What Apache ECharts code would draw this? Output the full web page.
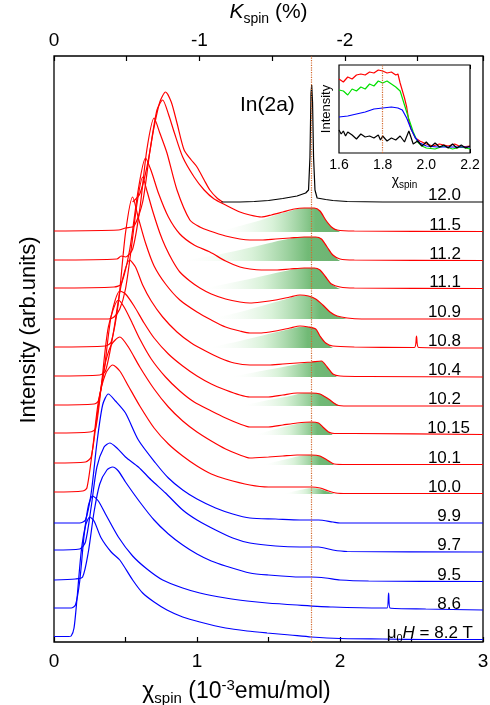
<!DOCTYPE html>
<html>
<head>
<meta charset="utf-8">
<script src="https://cdn.jsdelivr.net/npm/echarts@6/dist/echarts.min.js"></script>
<style>
  html, body { margin: 0; padding: 0; background: #fff; }
  #chart { width: 490px; height: 705px; }
</style>
</head>
<body>
<div id="chart"></div>
<script>
// field of each spectrum, bottom to top (T)
const fields = ['8.2', '8.6', '9.5', '9.7', '9.9', '10.0', '10.1', '10.15', '10.2', '10.4', '10.8', '10.9', '11.1', '11.2', '11.5', '12.0'];
// vertical offset of every spectrum (arb. units)
const offsets = [2, 31, 60, 90, 119, 148, 177, 207, 236, 265, 294, 323, 353, 381, 410, 440];

// spectra, [chi_spin, intensity above own baseline]
const s82 = [[0,3.5],[0.1,3.5],[0.12,4],[0.14,12],[0.16,40],[0.19,88],[0.22,114],[0.25,123],[0.28,119],[0.33,102],[0.4,88],[0.46,80],[0.55,60],[0.62,47],[0.7,38],[0.79,30],[0.9,23],[1.02,18],[1.2,12],[1.35,9],[1.49,7],[1.65,5],[1.8,3],[2.0,1.5],[2.3,1],[2.6,0.5],[3,0.5]];
const s86 = [[0,3],[0.12,3],[0.15,6],[0.18,30],[0.21,75],[0.24,105],[0.27,115],[0.31,110],[0.36,97],[0.45,74],[0.55,55],[0.65,42],[0.76,31],[0.9,23],[1.02,18],[1.2,13],[1.35,10],[1.49,8],[1.7,6],[1.95,4],[2.3,3],[2.33,3],[2.34,18],[2.35,3],[2.6,2],[3,1]];
const s95 = [[0,2],[0.15,3],[0.2,5],[0.24,30],[0.28,70],[0.32,98],[0.37,112],[0.41,115],[0.45,111],[0.5,100],[0.6,80],[0.7,62],[0.8,48],[0.9,37],[1.0,28],[1.1,21],[1.2,16],[1.37,9],[1.5,7],[1.72,5],[1.8,5],[1.9,4],[2.0,2],[2.2,1],[3,0.5]];
const s97 = [[0,2],[0.18,3],[0.22,10],[0.26,45],[0.3,85],[0.35,105],[0.39,109],[0.44,104],[0.5,95],[0.59,85],[0.68,72],[0.78,59],[0.9,42],[1.0,32],[1.13,22],[1.25,14],[1.37,9],[1.55,6],[1.72,5],[1.85,5],[1.95,2],[2.05,0.5],[3,0]];
const s99 = [[0,0],[0.18,0],[0.22,3],[0.26,30],[0.3,80],[0.34,118],[0.38,129],[0.43,122],[0.5,110],[0.59,83],[0.71,60],[0.8,45],[0.9,33],[1.0,24],[1.13,15],[1.25,9],[1.37,5],[1.55,4],[1.72,3],[1.85,3],[1.95,1],[2.0,0],[3,0]];
const s100 = [[0,2],[0.2,3],[0.23,6],[0.27,45],[0.31,92],[0.36,120],[0.41,129],[0.46,123],[0.52,108],[0.6,88],[0.7,66],[0.8,50],[0.9,38],[1.0,28],[1.1,20],[1.2,15],[1.37,9],[1.5,7],[1.62,7],[1.72,7],[1.8,7],[1.86,6],[1.92,3],[1.97,1],[2.05,0.5],[3,0.5]];
const s101 = [[0,2],[0.22,3],[0.26,8],[0.3,48],[0.35,96],[0.4,120],[0.46,128],[0.52,118],[0.6,98],[0.7,76],[0.8,58],[0.9,44],[1.0,33],[1.1,24],[1.2,16],[1.3,10],[1.37,7],[1.5,8],[1.6,9],[1.7,10],[1.8,10],[1.86,9],[1.91,5],[1.96,1],[2.05,0.5],[3,0.5]];
const s1015 = [[0,2],[0.25,3],[0.29,6],[0.33,48],[0.38,108],[0.45,135],[0.49,128],[0.54,114],[0.6,96],[0.68,76],[0.78,58],[0.88,44],[0.98,33],[1.1,24],[1.2,17],[1.3,11],[1.37,8],[1.5,8],[1.6,10],[1.7,12],[1.8,13],[1.85,12],[1.88,8],[1.92,3],[1.96,1.5],[2.1,1.5],[3,0.5]];
const s102 = [[0,1],[0.28,2],[0.31,5],[0.35,35],[0.4,90],[0.46,115],[0.5,112],[0.56,100],[0.63,83],[0.7,68],[0.8,52],[0.9,40],[1.0,30],[1.1,22],[1.2,16],[1.3,11],[1.37,9],[1.5,9],[1.6,11],[1.7,13],[1.8,13],[1.86,12],[1.92,7],[1.98,1],[2.05,0],[3,0]];
const s104 = [[0,1],[0.32,2],[0.36,6],[0.41,40],[0.47,92],[0.53,117],[0.57,110],[0.62,92],[0.68,76],[0.76,60],[0.86,45],[0.96,34],[1.06,26],[1.16,19],[1.26,14],[1.37,12],[1.5,12],[1.6,13],[1.7,14],[1.8,15],[1.87,16],[1.91,10],[1.95,3],[2.0,1],[2.2,0.5],[3,0]];
const s108 = [[0,1],[0.36,2],[0.4,6],[0.45,45],[0.5,115],[0.55,151],[0.59,130],[0.64,105],[0.7,82],[0.78,64],[0.88,48],[1.0,36],[1.1,28],[1.2,21],[1.3,17],[1.37,15],[1.45,15],[1.55,17],[1.65,20],[1.72,22],[1.78,21],[1.83,19],[1.86,12],[1.9,5],[1.95,2],[2.1,1],[2.52,0.5],[2.535,12],[2.55,0.5],[3,0]];
const s109 = [[0,0],[0.38,0],[0.42,2],[0.46,10],[0.5,30],[0.54,70],[0.58,115],[0.62,142],[0.65,128],[0.69,108],[0.74,86],[0.78,72],[0.83,58],[0.88,47],[0.95,38],[1.02,31],[1.1,25],[1.2,20],[1.3,17],[1.37,16],[1.45,17],[1.55,19],[1.65,22],[1.72,24],[1.78,23],[1.83,20],[1.88,14],[1.93,7],[1.98,3],[2.05,1],[2.15,0],[3,0]];
const s111 = [[0,1],[0.42,2],[0.47,5],[0.53,40],[0.59,100],[0.64,131],[0.68,118],[0.73,96],[0.8,72],[0.88,55],[0.98,44],[1.09,37],[1.2,28],[1.3,22],[1.37,20],[1.45,19],[1.55,19],[1.65,20],[1.75,21],[1.82,21],[1.86,19],[1.9,12],[1.94,5],[2.0,2],[2.1,1],[3,0.5]];
const s112 = [[0,1],[0.44,2],[0.47,5],[0.5,4],[0.55,12],[0.6,52],[0.65,112],[0.7,143],[0.74,128],[0.79,108],[0.86,71],[0.95,41],[1.02,34],[1.09,30],[1.2,25],[1.3,22],[1.37,21],[1.45,21],[1.55,22],[1.65,23],[1.75,24],[1.83,24],[1.87,22],[1.91,14],[1.95,6],[2.0,2],[2.1,1],[3,0.5]];
const s115 = [[0,1],[0.45,2],[0.5,4],[0.56,6],[0.62,30],[0.67,80],[0.72,122],[0.76,132],[0.8,118],[0.84,100],[0.9,75],[0.98,55],[1.05,42],[1.12,33],[1.2,27],[1.3,20],[1.37,17],[1.45,15],[1.52,17],[1.6,20],[1.68,23],[1.75,24],[1.82,24],[1.86,21],[1.9,12],[1.94,5],[1.98,2],[2.1,1],[3,0.5]];
const s120 = [[0.55,0],[0.6,8],[0.65,35],[0.7,75],[0.74,100],[0.78,110],[0.82,100],[0.86,79],[0.91,52],[0.96,42],[1.0,35],[1.05,22],[1.09,12],[1.14,4],[1.18,0]];
const spectra = [s82, s86, s95, s97, s99, s100, s101, s1015, s102, s104, s108, s109, s111, s112, s115, s120];
const blueCount = 5;

// In(2a) line of the 12.0 T spectrum (black)
const in2a120 = [[1.17,0],[1.3,0],[1.4,0.5],[1.5,1.5],[1.6,3.5],[1.7,6],[1.76,9],[1.78,12],[1.79,45],[1.797,108],[1.802,117],[1.808,100],[1.815,45],[1.825,12],[1.84,4],[1.9,2.5],[1.95,1.5],[2.05,0.5],[2.3,0],[3,0]];

// In(2a) contribution shaded in green (null: none)
const in2aHumps = [null, null, null, null, null,
  [[1.6,0],[1.72,4],[1.8,6],[1.86,5],[1.92,2],[1.96,0]],
  [[1.45,0],[1.6,5],[1.72,9],[1.8,10],[1.86,9],[1.91,5],[1.96,0]],
  [[1.4,0],[1.55,6],[1.7,11],[1.8,13],[1.85,12],[1.88,8],[1.92,3],[1.95,0]],
  [[1.3,0],[1.5,6],[1.65,10],[1.75,13],[1.84,13],[1.9,9],[1.95,4],[2.0,0]],
  [[1.23,0],[1.45,6],[1.6,10],[1.75,14],[1.87,16],[1.91,10],[1.95,3],[1.98,0]],
  [[1.07,0],[1.3,7],[1.5,14],[1.65,19],[1.72,21],[1.78,21],[1.83,19],[1.86,12],[1.9,5],[1.95,0]],
  [[1.09,0],[1.3,7],[1.5,15],[1.65,21],[1.72,23.5],[1.78,23],[1.83,20],[1.88,14],[1.93,7],[1.98,3],[2.05,0]],
  [[1.02,0],[1.2,5],[1.4,11],[1.55,16],[1.65,19],[1.75,21],[1.82,21],[1.86,19],[1.9,12],[1.94,5],[2.0,0]],
  [[0.88,0],[1.1,5],[1.3,11],[1.45,16],[1.6,21],[1.75,24],[1.83,24],[1.87,22],[1.91,14],[1.95,6],[2.0,0]],
  [[1.14,0],[1.3,6],[1.45,12],[1.55,17],[1.65,21],[1.75,24],[1.82,24],[1.86,21],[1.9,12],[1.94,5],[1.98,2],[2.0,0]],
  null];

// inset spectra
const insetRed = [[1.6,74],[1.62,71],[1.64,76],[1.66,74],[1.68,78],[1.7,79],[1.72,78],[1.74,81],[1.76,80],[1.78,83],[1.8,82],[1.82,80],[1.84,81],[1.86,78],[1.87,79],[1.88,70],[1.9,55],[1.91,46],[1.92,32],[1.93,24],[1.95,15],[1.97,12],[2.0,9],[2.03,7],[2.06,9],[2.1,7],[2.13,9],[2.16,6],[2.2,7]];
const insetGreen = [[1.6,63],[1.62,62],[1.64,58],[1.66,64],[1.68,62],[1.7,66],[1.72,64],[1.74,69],[1.76,67],[1.78,72],[1.8,70],[1.82,72],[1.84,69],[1.86,66],[1.88,62],[1.9,48],[1.92,34],[1.94,21],[1.96,11],[1.98,7],[2.0,5],[2.04,4],[2.08,7],[2.12,4],[2.16,6],[2.2,4]];
const insetBlue = [[1.6,36],[1.64,37],[1.68,39],[1.72,41],[1.76,44],[1.8,45],[1.84,46],[1.87,45],[1.89,43],[1.91,35],[1.93,24],[1.95,15],[1.97,10],[2.0,7],[2.05,6],[2.1,6],[2.2,6]];
const insetBlack = [[1.6,23],[1.61,19],[1.62,22],[1.63,17],[1.64,21],[1.66,18],[1.68,14],[1.7,19],[1.72,16],[1.74,17],[1.76,15],[1.78,18],[1.79,13],[1.8,17],[1.82,12],[1.84,15],[1.86,13],[1.88,17],[1.9,11],[1.92,22],[1.94,9],[1.96,12],[1.98,7],[2.0,11],[2.02,6],[2.04,10],[2.06,6],[2.08,8],[2.1,5],[2.12,9],[2.14,5],[2.16,8],[2.18,5],[2.2,7]];

const kPerChi = 1 / 1.017;   // top axis: K_spin = -chi * kPerChi
const markChi = 1.8;

const FONT = 'Liberation Sans, Arial, Helvetica, sans-serif';
const RED = '#ff0000', BLUE = '#0000ff', INK = '#000';
const MARK = '#d2692e';

const greenFill = {
  type: 'linear', x: 0, y: 0, x2: 1, y2: 0,
  colorStops: [
    { offset: 0, color: 'rgba(255,255,255,0)' },
    { offset: 0.45, color: 'rgba(200,236,200,0.7)' },
    { offset: 0.8, color: 'rgba(105,182,110,0.95)' },
    { offset: 1, color: 'rgba(95,170,100,0.9)' }
  ]
};

const series = [];
fields.forEach((f, i) => {
  const base = offsets[i];
  const hump = in2aHumps[i];
  if (hump) {
    series.push({
      type: 'line', xAxisIndex: 0, yAxisIndex: 0, silent: true, z: 1,
      data: hump.map(p => [p[0], base + p[1]]),
      showSymbol: false, smooth: 0.3,
      lineStyle: { width: 0 },
      areaStyle: { origin: base, color: greenFill, opacity: 1 }
    });
  }
  series.push({
    type: 'line', xAxisIndex: 0, yAxisIndex: 0, silent: true, z: 3,
    data: spectra[i].map(p => [p[0], base + p[1]]),
    showSymbol: false, smooth: 0.25,
    lineStyle: { color: i < blueCount ? BLUE : RED, width: 1.2 }
  });
});

// black In(2a) part of the 12.0 T spectrum, and the chi = 1.8 marker
series.push({
  type: 'line', xAxisIndex: 0, yAxisIndex: 0, silent: true, z: 3,
  data: in2a120.map(p => [p[0], offsets[15] + p[1]]),
  showSymbol: false, smooth: false,
  lineStyle: { color: '#000', width: 1.2 },
  markLine: {
    silent: true, symbol: 'none', animation: false,
    label: { show: false },
    lineStyle: { color: MARK, type: 'dotted', width: 1.2 },
    data: [{ xAxis: markChi }]
  }
});

// field labels
const labelShift = { '10.15': 0.062, '8.2': 0.084 };
series.push({
  type: 'scatter', xAxisIndex: 0, yAxisIndex: 0, symbolSize: 0, silent: true, z: 5,
  itemStyle: { opacity: 1 },
  data: fields.map((f, i) => ({
    value: [2.846 + (labelShift[f] || 0), offsets[i] + 7],
    label: {
      show: true, position: 'left', distance: 0, opacity: 1,
      formatter: f === '8.2' ? '{t|\u03bc}{s|0}{h|H}{t| = 8.2 T}' : f,
      fontSize: 17, color: INK, fontFamily: FONT,
      rich: {
        t: { fontSize: 17, lineHeight: 22, fontFamily: FONT, color: INK },
        h: { fontSize: 17, lineHeight: 22, fontStyle: 'italic', fontFamily: FONT, color: INK },
        s: { fontSize: 11, lineHeight: 11, verticalAlign: 'bottom', fontFamily: FONT, color: INK }
      }
    }
  }))
});

// inset
[[insetRed, RED], [insetGreen, '#00e000'], [insetBlue, BLUE], [insetBlack, '#000']].forEach(([d, c], k) => {
  series.push({
    type: 'line', xAxisIndex: 2, yAxisIndex: 1, silent: true, z: 4,
    data: d, showSymbol: false, smooth: false,
    lineStyle: { color: c, width: 1.2 },
    markLine: k === 0 ? {
      silent: true, symbol: 'none', animation: false, label: { show: false },
      lineStyle: { color: MARK, type: 'dotted', width: 1.2 },
      data: [{ xAxis: markChi }]
    } : undefined
  });
});

const isInt = v => Math.abs(v - Math.round(v)) < 1e-6;

const option = {
  animation: false,
  backgroundColor: '#fff',
  textStyle: { fontFamily: FONT, color: INK },
  grid: [
    { left: 54, right: 7, top: 56, bottom: 63, show: true, borderColor: '#000', borderWidth: 1.3, backgroundColor: 'transparent', outerBoundsMode: 'none' },
    { left: 339, top: 65, width: 131, height: 88, show: true, borderColor: '#000', borderWidth: 1.2, backgroundColor: '#fff', outerBoundsMode: 'none', z: 3 }
  ],
  xAxis: [
    {
      type: 'value', gridIndex: 0, position: 'bottom', min: 0, max: 3, interval: 0.5,
      axisLine: { show: false }, splitLine: { show: false },
      axisTick: { inside: true, length: 5, lineStyle: { color: '#000', width: 1.2 } },
      axisLabel: { fontSize: 19, color: INK, margin: 10, formatter: v => isInt(v) ? String(Math.round(v)) : '' },
      name: '{n|\u03c7}{s|spin}{n| (10}{p|-3}{n|emu/mol)}',
      nameLocation: 'middle', nameGap: 36,
      nameTextStyle: {
        padding: [0, 64, 0, 0],
        rich: {
          n: { fontSize: 23, lineHeight: 28, color: INK, fontFamily: FONT },
          s: { fontSize: 15, lineHeight: 15, verticalAlign: 'bottom', color: INK, fontFamily: FONT },
          p: { fontSize: 15, lineHeight: 15, verticalAlign: 'top', color: INK, fontFamily: FONT }
        }
      }
    },
    {
      type: 'value', gridIndex: 0, position: 'top', min: 0, max: 3 * kPerChi, interval: 0.5,
      axisLine: { show: false }, splitLine: { show: false },
      axisTick: { inside: true, length: 5, lineStyle: { color: '#000', width: 1.2 } },
      axisLabel: { fontSize: 19, color: INK, margin: 6, formatter: v => isInt(v) ? (Math.round(v) === 0 ? '0' : '-' + Math.round(v)) : '' },
      name: '{i|K}{s|spin}{n| (%)}',
      nameLocation: 'middle', nameGap: 19,
      nameTextStyle: {
        rich: {
          i: { fontSize: 21, lineHeight: 28, fontStyle: 'italic', color: INK, fontFamily: FONT },
          n: { fontSize: 21, lineHeight: 28, color: INK, fontFamily: FONT },
          s: { fontSize: 14, lineHeight: 14, verticalAlign: 'bottom', color: INK, fontFamily: FONT }
        }
      }
    },
    {
      type: 'value', gridIndex: 1, position: 'bottom', min: 1.6, max: 2.2, interval: 0.1,
      axisLine: { show: false }, splitLine: { show: false },
      axisTick: { inside: true, length: 4, lineStyle: { color: '#000', width: 1 } },
      axisLabel: { fontSize: 14, color: INK, margin: 5, formatter: v => { const k = Math.round(v * 10); return k % 2 === 0 ? (k / 10).toFixed(1) : ''; } },
      name: '{n|\u03c7}{s|spin}', nameLocation: 'middle', nameGap: 19,
      nameTextStyle: {
        rich: {
          n: { fontSize: 14, lineHeight: 18, color: INK, fontFamily: FONT },
          s: { fontSize: 10, lineHeight: 10, verticalAlign: 'bottom', color: INK, fontFamily: FONT }
        }
      }
    },
    {
      type: 'value', gridIndex: 1, position: 'top', min: 1.6, max: 2.2, interval: 0.1,
      axisLine: { show: false }, splitLine: { show: false },
      axisTick: { inside: true, length: 4, lineStyle: { color: '#000', width: 1 } },
      axisLabel: { show: false }
    }
  ],
  yAxis: [
    {
      type: 'value', gridIndex: 0, min: 0, max: 586,
      axisLine: { show: false }, axisTick: { show: false }, axisLabel: { show: false }, splitLine: { show: false },
      name: 'Intensity (arb.units)', nameLocation: 'middle', nameGap: 14, nameRotate: 90,
      nameTextStyle: { fontSize: 22, color: INK, padding: [0, 0, 0, 38] }
    },
    {
      type: 'value', gridIndex: 1, min: 0, max: 88,
      axisLine: { show: false }, axisTick: { show: false }, axisLabel: { show: false }, splitLine: { show: false },
      name: 'Intensity', nameLocation: 'middle', nameGap: 6, nameRotate: 90,
      nameTextStyle: { fontSize: 13, color: INK }
    }
  ],
  graphic: [
    { type: 'text', left: 240, top: 95, silent: true, style: { text: 'In(2a)', fontSize: 21, fontFamily: FONT, fill: INK } }
  ],
  series: series
};

const myChart = echarts.init(document.getElementById('chart'));
myChart.setOption(option);
</script>
</body>
</html>
